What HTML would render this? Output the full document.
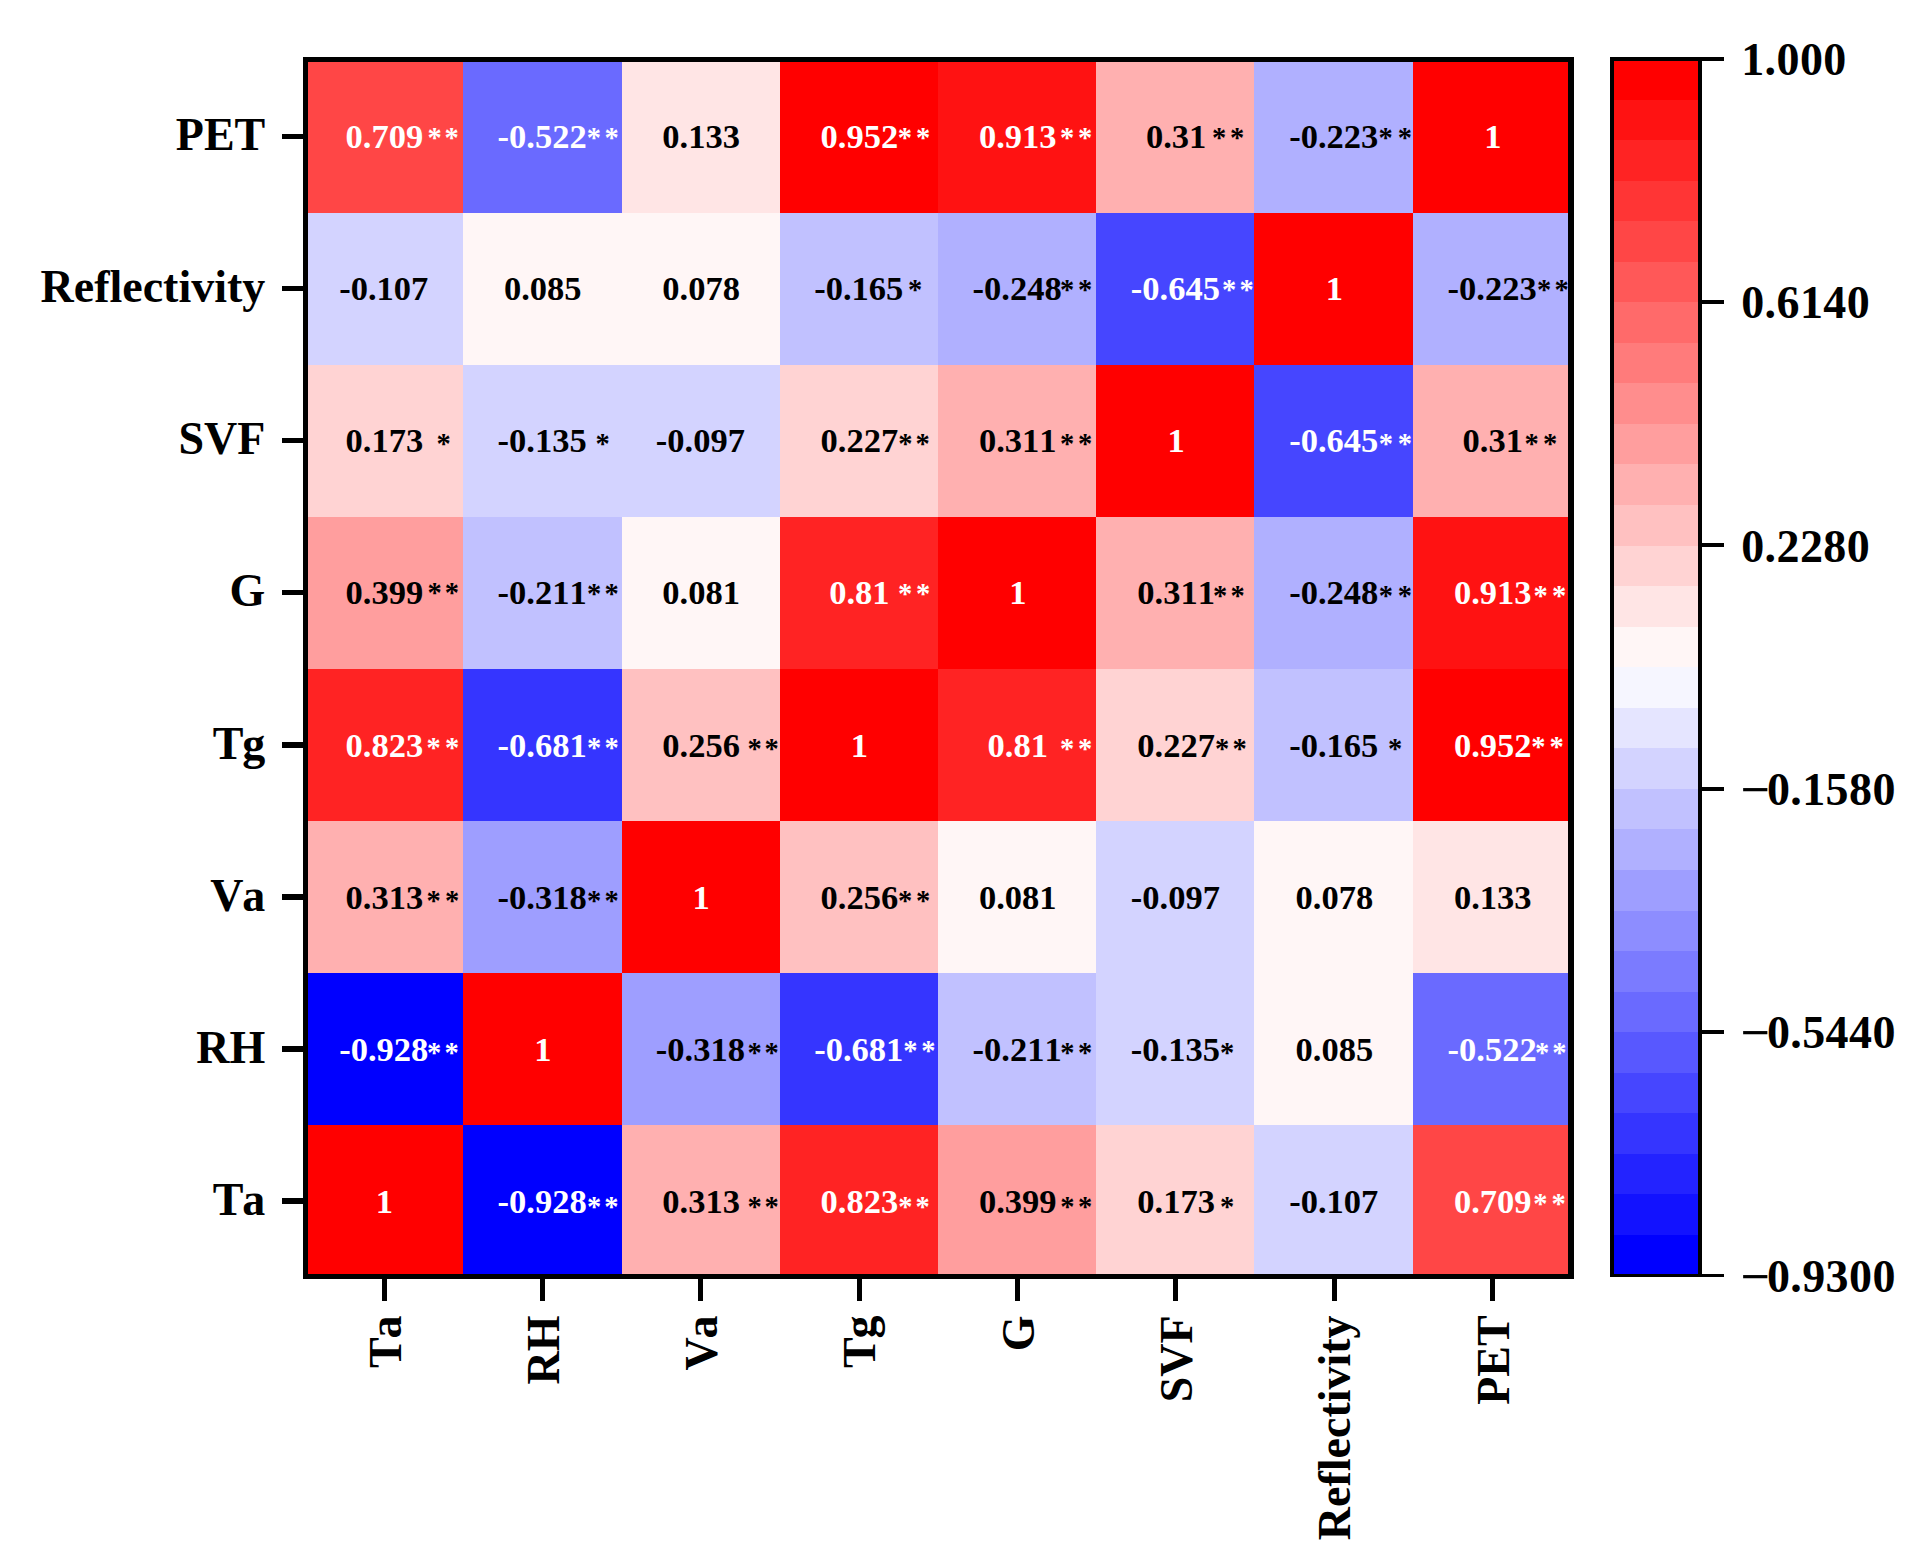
<!DOCTYPE html>
<html lang="en"><head><meta charset="utf-8"><title>Correlation heatmap</title>
<style>html,body{margin:0;padding:0;background:#fff}body{width:1922px;height:1565px;overflow:hidden}svg{display:block}text{font-family:"Liberation Serif",serif;font-weight:bold;font-kerning:none;font-variant-ligatures:none}.n{font-size:34.5px;text-anchor:middle}.s{font-size:28.5px;text-anchor:middle}.l{font-size:46px}.w{fill:#fff}.k{fill:#000}</style></head><body>
<svg width="1922" height="1565" viewBox="0 0 1922 1565">
<rect width="1922" height="1565" fill="#fff"/>
<g shape-rendering="crispEdges">
<rect x="305" y="61" width="158" height="152" fill="#ff4646"/>
<rect x="463" y="61" width="159" height="152" fill="#6a6aff"/>
<rect x="622" y="61" width="158" height="152" fill="#ffe5e5"/>
<rect x="780" y="61" width="158" height="152" fill="#ff0000"/>
<rect x="938" y="61" width="158" height="152" fill="#ff1212"/>
<rect x="1096" y="61" width="158" height="152" fill="#ffb0b0"/>
<rect x="1254" y="61" width="159" height="152" fill="#b0b0ff"/>
<rect x="1413" y="61" width="158" height="152" fill="#ff0000"/>
<rect x="305" y="213" width="158" height="152" fill="#d3d3ff"/>
<rect x="463" y="213" width="159" height="152" fill="#fff6f6"/>
<rect x="622" y="213" width="158" height="152" fill="#fff6f6"/>
<rect x="780" y="213" width="158" height="152" fill="#c1c1ff"/>
<rect x="938" y="213" width="158" height="152" fill="#b0b0ff"/>
<rect x="1096" y="213" width="158" height="152" fill="#4646ff"/>
<rect x="1254" y="213" width="159" height="152" fill="#ff0000"/>
<rect x="1413" y="213" width="158" height="152" fill="#b0b0ff"/>
<rect x="305" y="365" width="158" height="152" fill="#ffd3d3"/>
<rect x="463" y="365" width="159" height="152" fill="#d3d3ff"/>
<rect x="622" y="365" width="158" height="152" fill="#d3d3ff"/>
<rect x="780" y="365" width="158" height="152" fill="#ffd3d3"/>
<rect x="938" y="365" width="158" height="152" fill="#ffb0b0"/>
<rect x="1096" y="365" width="158" height="152" fill="#ff0000"/>
<rect x="1254" y="365" width="159" height="152" fill="#4646ff"/>
<rect x="1413" y="365" width="158" height="152" fill="#ffb0b0"/>
<rect x="305" y="517" width="158" height="152" fill="#ff9e9e"/>
<rect x="463" y="517" width="159" height="152" fill="#c1c1ff"/>
<rect x="622" y="517" width="158" height="152" fill="#fff6f6"/>
<rect x="780" y="517" width="158" height="152" fill="#ff2323"/>
<rect x="938" y="517" width="158" height="152" fill="#ff0000"/>
<rect x="1096" y="517" width="158" height="152" fill="#ffb0b0"/>
<rect x="1254" y="517" width="159" height="152" fill="#b0b0ff"/>
<rect x="1413" y="517" width="158" height="152" fill="#ff1212"/>
<rect x="305" y="669" width="158" height="152" fill="#ff2323"/>
<rect x="463" y="669" width="159" height="152" fill="#3535ff"/>
<rect x="622" y="669" width="158" height="152" fill="#ffc1c1"/>
<rect x="780" y="669" width="158" height="152" fill="#ff0000"/>
<rect x="938" y="669" width="158" height="152" fill="#ff2323"/>
<rect x="1096" y="669" width="158" height="152" fill="#ffd3d3"/>
<rect x="1254" y="669" width="159" height="152" fill="#c1c1ff"/>
<rect x="1413" y="669" width="158" height="152" fill="#ff0000"/>
<rect x="305" y="821" width="158" height="152" fill="#ffb0b0"/>
<rect x="463" y="821" width="159" height="152" fill="#9e9eff"/>
<rect x="622" y="821" width="158" height="152" fill="#ff0000"/>
<rect x="780" y="821" width="158" height="152" fill="#ffc1c1"/>
<rect x="938" y="821" width="158" height="152" fill="#fff6f6"/>
<rect x="1096" y="821" width="158" height="152" fill="#d3d3ff"/>
<rect x="1254" y="821" width="159" height="152" fill="#fff6f6"/>
<rect x="1413" y="821" width="158" height="152" fill="#ffe5e5"/>
<rect x="305" y="973" width="158" height="152" fill="#0000ff"/>
<rect x="463" y="973" width="159" height="152" fill="#ff0000"/>
<rect x="622" y="973" width="158" height="152" fill="#9e9eff"/>
<rect x="780" y="973" width="158" height="152" fill="#3535ff"/>
<rect x="938" y="973" width="158" height="152" fill="#c1c1ff"/>
<rect x="1096" y="973" width="158" height="152" fill="#d3d3ff"/>
<rect x="1254" y="973" width="159" height="152" fill="#fff6f6"/>
<rect x="1413" y="973" width="158" height="152" fill="#6a6aff"/>
<rect x="305" y="1125" width="158" height="152" fill="#ff0000"/>
<rect x="463" y="1125" width="159" height="152" fill="#0000ff"/>
<rect x="622" y="1125" width="158" height="152" fill="#ffb0b0"/>
<rect x="780" y="1125" width="158" height="152" fill="#ff2323"/>
<rect x="938" y="1125" width="158" height="152" fill="#ff9e9e"/>
<rect x="1096" y="1125" width="158" height="152" fill="#ffd3d3"/>
<rect x="1254" y="1125" width="159" height="152" fill="#d3d3ff"/>
<rect x="1413" y="1125" width="158" height="152" fill="#ff4646"/>
<rect x="1612" y="59" width="88" height="41" fill="#ff0000"/>
<rect x="1612" y="100" width="88" height="40" fill="#ff1212"/>
<rect x="1612" y="140" width="88" height="41" fill="#ff2323"/>
<rect x="1612" y="181" width="88" height="40" fill="#ff3535"/>
<rect x="1612" y="221" width="88" height="41" fill="#ff4646"/>
<rect x="1612" y="262" width="88" height="40" fill="#ff5858"/>
<rect x="1612" y="302" width="88" height="41" fill="#ff6a6a"/>
<rect x="1612" y="343" width="88" height="40" fill="#ff7b7b"/>
<rect x="1612" y="383" width="88" height="41" fill="#ff8d8d"/>
<rect x="1612" y="424" width="88" height="40" fill="#ff9e9e"/>
<rect x="1612" y="464" width="88" height="41" fill="#ffb0b0"/>
<rect x="1612" y="505" width="88" height="41" fill="#ffc1c1"/>
<rect x="1612" y="546" width="88" height="40" fill="#ffd3d3"/>
<rect x="1612" y="586" width="88" height="41" fill="#ffe5e5"/>
<rect x="1612" y="627" width="88" height="40" fill="#fff6f6"/>
<rect x="1612" y="667" width="88" height="41" fill="#f6f6ff"/>
<rect x="1612" y="708" width="88" height="40" fill="#e5e5ff"/>
<rect x="1612" y="748" width="88" height="41" fill="#d3d3ff"/>
<rect x="1612" y="789" width="88" height="40" fill="#c1c1ff"/>
<rect x="1612" y="829" width="88" height="41" fill="#b0b0ff"/>
<rect x="1612" y="870" width="88" height="41" fill="#9e9eff"/>
<rect x="1612" y="911" width="88" height="40" fill="#8d8dff"/>
<rect x="1612" y="951" width="88" height="41" fill="#7b7bff"/>
<rect x="1612" y="992" width="88" height="40" fill="#6a6aff"/>
<rect x="1612" y="1032" width="88" height="41" fill="#5858ff"/>
<rect x="1612" y="1073" width="88" height="40" fill="#4646ff"/>
<rect x="1612" y="1113" width="88" height="41" fill="#3535ff"/>
<rect x="1612" y="1154" width="88" height="40" fill="#2323ff"/>
<rect x="1612" y="1194" width="88" height="41" fill="#1212ff"/>
<rect x="1612" y="1235" width="88" height="41" fill="#0000ff"/>
<rect x="303" y="57" width="5" height="1222" fill="#000"/>
<rect x="1568" y="57" width="6" height="1222" fill="#000"/>
<rect x="303" y="57" width="1271" height="5" fill="#000"/>
<rect x="303" y="1274" width="1271" height="5" fill="#000"/>
<rect x="1610" y="57" width="4" height="1220" fill="#000"/>
<rect x="1698" y="57" width="4" height="1220" fill="#000"/>
<rect x="1610" y="57" width="92" height="4" fill="#000"/>
<rect x="1610" y="1274" width="92" height="3" fill="#000"/>
<rect x="282" y="134" width="22" height="5" fill="#000"/>
<rect x="282" y="286" width="22" height="5" fill="#000"/>
<rect x="282" y="438" width="22" height="5" fill="#000"/>
<rect x="282" y="590" width="22" height="5" fill="#000"/>
<rect x="282" y="742" width="22" height="6" fill="#000"/>
<rect x="282" y="894" width="22" height="6" fill="#000"/>
<rect x="282" y="1046" width="22" height="6" fill="#000"/>
<rect x="282" y="1198" width="22" height="6" fill="#000"/>
<rect x="382" y="1278" width="5" height="23" fill="#000"/>
<rect x="540" y="1278" width="5" height="23" fill="#000"/>
<rect x="698" y="1278" width="5" height="23" fill="#000"/>
<rect x="857" y="1278" width="5" height="23" fill="#000"/>
<rect x="1015" y="1278" width="5" height="23" fill="#000"/>
<rect x="1173" y="1278" width="5" height="23" fill="#000"/>
<rect x="1332" y="1278" width="5" height="23" fill="#000"/>
<rect x="1490" y="1278" width="5" height="23" fill="#000"/>
<rect x="1701" y="57" width="23" height="4" fill="#000"/>
<rect x="1701" y="300" width="23" height="4" fill="#000"/>
<rect x="1701" y="543" width="23" height="4" fill="#000"/>
<rect x="1701" y="787" width="23" height="4" fill="#000"/>
<rect x="1701" y="1030" width="23" height="4" fill="#000"/>
<rect x="1701" y="1274" width="23" height="3" fill="#000"/>
</g>
<text class="l k" style="letter-spacing:0.4px" x="1741.2" y="75.0">1.000</text>
<text class="l k" style="letter-spacing:0.4px" x="1741.2" y="318.3">0.6140</text>
<text class="l k" style="letter-spacing:0.4px" x="1741.2" y="561.6">0.2280</text>
<text class="l k" style="letter-spacing:0.4px" x="1740.3" y="804.9"><tspan textLength="30.2" lengthAdjust="spacingAndGlyphs">−</tspan><tspan dx="-3.6">0.1580</tspan></text>
<text class="l k" style="letter-spacing:0.4px" x="1740.3" y="1048.2"><tspan textLength="30.2" lengthAdjust="spacingAndGlyphs">−</tspan><tspan dx="-3.6">0.5440</tspan></text>
<text class="l k" style="letter-spacing:0.4px" x="1740.3" y="1291.5"><tspan textLength="30.2" lengthAdjust="spacingAndGlyphs">−</tspan><tspan dx="-3.6">0.9300</tspan></text>
<text class="l k" x="265.3" y="149.9" text-anchor="end">PET</text>
<text class="l k" x="265.3" y="302.0" text-anchor="end">Reflectivity</text>
<text class="l k" x="265.3" y="454.2" text-anchor="end">SVF</text>
<text class="l k" x="265.3" y="606.3" text-anchor="end">G</text>
<text class="l k" x="265.3" y="758.5" text-anchor="end">T<tspan dx="-1.2">g</tspan></text>
<text class="l k" x="265.3" y="910.6" text-anchor="end">V<tspan dx="-1.2">a</tspan></text>
<text class="l k" x="265.3" y="1062.7" text-anchor="end">RH</text>
<text class="l k" x="265.3" y="1214.9" text-anchor="end">T<tspan dx="-1.2">a</tspan></text>
<text class="l k" text-anchor="end" transform="translate(400.8 1315.4) rotate(-90)">T<tspan dx="-1.2">a</tspan></text>
<text class="l k" text-anchor="end" transform="translate(559.2 1315.4) rotate(-90)">RH</text>
<text class="l k" text-anchor="end" transform="translate(717.2 1315.4) rotate(-90)">V<tspan dx="-1.2">a</tspan></text>
<text class="l k" text-anchor="end" transform="translate(874.5 1315.4) rotate(-90)">T<tspan dx="-1.2">g</tspan></text>
<text class="l k" text-anchor="end" transform="translate(1034.4 1315.4) rotate(-90)">G</text>
<text class="l k" text-anchor="end" transform="translate(1191.6 1315.4) rotate(-90)">SVF</text>
<text class="l k" text-anchor="end" transform="translate(1350.3 1315.4) rotate(-90)">Reflectivity</text>
<text class="l k" text-anchor="end" transform="translate(1508.5 1315.4) rotate(-90)">PET</text>
<text class="n w" transform="translate(384.4 147.8) scale(1 1)">0.709</text>
<text class="s w" x="434.5" y="146.5">*</text>
<text class="s w" x="451.6" y="146.5">*</text>
<text class="n w" transform="translate(542.1 147.8) scale(1 1)">-0.522</text>
<text class="s w" x="593.9" y="146.7">*</text>
<text class="s w" x="611.7" y="146.7">*</text>
<text class="n k" transform="translate(701.1 147.8) scale(1 1)">0.133</text>
<text class="n w" transform="translate(859.4 147.8) scale(1 1)">0.952</text>
<text class="s w" x="904.9" y="146.7">*</text>
<text class="s w" x="923.2" y="146.7">*</text>
<text class="n w" transform="translate(1017.8 147.8) scale(1 1)">0.913</text>
<text class="s w" x="1067.0" y="146.7">*</text>
<text class="s w" x="1085.2" y="146.7">*</text>
<text class="n k" transform="translate(1176.1 147.8) scale(1 1)">0.31</text>
<text class="s k" x="1219.0" y="146.7">*</text>
<text class="s k" x="1237.0" y="146.7">*</text>
<text class="n k" transform="translate(1333.7 147.8) scale(1 1)">-0.223</text>
<text class="s k" x="1385.7" y="146.7">*</text>
<text class="s k" x="1404.9" y="146.7">*</text>
<text class="n w" transform="translate(1492.8 147.8) scale(1 1)">1</text>
<text class="n k" transform="translate(383.7 299.8) scale(1 1)">-0.107</text>
<text class="n k" transform="translate(542.8 299.8) scale(1 1)">0.085</text>
<text class="n k" transform="translate(701.1 299.8) scale(1 1)">0.078</text>
<text class="n k" transform="translate(858.7 299.8) scale(1 1)">-0.165</text>
<text class="s k" x="915.0" y="298.5">*</text>
<text class="n k" transform="translate(1017.1 299.8) scale(1 1)">-0.248</text>
<text class="s k" x="1067.0" y="298.5">*</text>
<text class="s k" x="1085.2" y="298.5">*</text>
<text class="n w" transform="translate(1175.4 299.8) scale(1 1)">-0.645</text>
<text class="s w" x="1229.2" y="298.5">*</text>
<text class="s w" x="1246.7" y="298.5">*</text>
<text class="n w" transform="translate(1334.4 299.8) scale(1 1)">1</text>
<text class="n k" transform="translate(1492.1 299.8) scale(1 1)">-0.223</text>
<text class="s k" x="1544.0" y="298.5">*</text>
<text class="s k" x="1561.7" y="298.5">*</text>
<text class="n k" transform="translate(384.4 451.8) scale(1 1)">0.173</text>
<text class="s k" x="443.5" y="453.3">*</text>
<text class="n k" transform="translate(542.1 451.8) scale(1 1)">-0.135</text>
<text class="s k" x="602.7" y="453.3">*</text>
<text class="n k" transform="translate(700.4 451.8) scale(1 1)">-0.097</text>
<text class="n k" transform="translate(859.4 451.8) scale(1 1)">0.227</text>
<text class="s k" x="905.4" y="453.3">*</text>
<text class="s k" x="922.7" y="453.3">*</text>
<text class="n k" transform="translate(1017.8 451.8) scale(1 1)">0.311</text>
<text class="s k" x="1067.0" y="453.3">*</text>
<text class="s k" x="1085.2" y="453.3">*</text>
<text class="n w" transform="translate(1176.1 451.8) scale(1 1)">1</text>
<text class="n w" transform="translate(1333.7 451.8) scale(1 1)">-0.645</text>
<text class="s w" x="1385.9" y="453.3">*</text>
<text class="s w" x="1404.9" y="453.3">*</text>
<text class="n k" transform="translate(1492.8 451.8) scale(1 1)">0.31</text>
<text class="s k" x="1531.7" y="453.3">*</text>
<text class="s k" x="1550.0" y="453.3">*</text>
<text class="n k" transform="translate(384.4 603.8) scale(1 1)">0.399</text>
<text class="s k" x="434.5" y="601.7">*</text>
<text class="s k" x="451.8" y="601.7">*</text>
<text class="n k" transform="translate(542.1 603.8) scale(1 1)">-0.211</text>
<text class="s k" x="594.2" y="602.5">*</text>
<text class="s k" x="611.7" y="602.5">*</text>
<text class="n k" transform="translate(701.1 603.8) scale(1 1)">0.081</text>
<text class="n w" transform="translate(859.4 603.8) scale(1 1)">0.81</text>
<text class="s w" x="905.2" y="602.5">*</text>
<text class="s w" x="923.0" y="602.5">*</text>
<text class="n w" transform="translate(1017.8 603.8) scale(1 1)">1</text>
<text class="n k" transform="translate(1176.1 603.8) scale(1 1)">0.311</text>
<text class="s k" x="1220.0" y="604.6">*</text>
<text class="s k" x="1237.7" y="604.6">*</text>
<text class="n k" transform="translate(1333.7 603.8) scale(1 1)">-0.248</text>
<text class="s k" x="1385.9" y="604.6">*</text>
<text class="s k" x="1404.9" y="604.6">*</text>
<text class="n w" transform="translate(1492.8 603.8) scale(1 1)">0.913</text>
<text class="s w" x="1540.7" y="604.6">*</text>
<text class="s w" x="1559.0" y="604.6">*</text>
<text class="n w" transform="translate(384.4 756.8) scale(1 1)">0.823</text>
<text class="s w" x="433.7" y="757.0">*</text>
<text class="s w" x="452.0" y="757.0">*</text>
<text class="n w" transform="translate(542.1 756.8) scale(1 1)">-0.681</text>
<text class="s w" x="594.2" y="757.0">*</text>
<text class="s w" x="611.7" y="757.0">*</text>
<text class="n k" transform="translate(701.1 756.8) scale(1 1)">0.256</text>
<text class="s k" x="754.5" y="757.5">*</text>
<text class="s k" x="771.5" y="757.5">*</text>
<text class="n w" transform="translate(859.4 756.8) scale(1 1)">1</text>
<text class="n w" transform="translate(1017.8 756.8) scale(1 1)">0.81</text>
<text class="s w" x="1067.0" y="757.8">*</text>
<text class="s w" x="1085.2" y="757.8">*</text>
<text class="n k" transform="translate(1176.1 756.8) scale(1 1)">0.227</text>
<text class="s k" x="1222.0" y="757.8">*</text>
<text class="s k" x="1239.7" y="757.8">*</text>
<text class="n k" transform="translate(1333.7 756.8) scale(1 1)">-0.165</text>
<text class="s k" x="1395.2" y="757.8">*</text>
<text class="n w" transform="translate(1492.8 756.8) scale(1 1)">0.952</text>
<text class="s w" x="1538.4" y="755.8">*</text>
<text class="s w" x="1556.7" y="755.8">*</text>
<text class="n k" transform="translate(384.4 908.8) scale(1 1)">0.313</text>
<text class="s k" x="433.7" y="909.8">*</text>
<text class="s k" x="452.0" y="909.8">*</text>
<text class="n k" transform="translate(542.1 908.8) scale(1 1)">-0.318</text>
<text class="s k" x="594.2" y="909.8">*</text>
<text class="s k" x="611.7" y="909.8">*</text>
<text class="n w" transform="translate(701.1 908.8) scale(1 1)">1</text>
<text class="n k" transform="translate(859.4 908.8) scale(1 1)">0.256</text>
<text class="s k" x="905.2" y="909.8">*</text>
<text class="s k" x="923.0" y="909.8">*</text>
<text class="n k" transform="translate(1017.8 908.8) scale(1 1)">0.081</text>
<text class="n k" transform="translate(1175.4 908.8) scale(1 1)">-0.097</text>
<text class="n k" transform="translate(1334.4 908.8) scale(1 1)">0.078</text>
<text class="n k" transform="translate(1492.8 908.8) scale(1 1)">0.133</text>
<text class="n w" transform="translate(383.7 1060.8) scale(1 1)">-0.928</text>
<text class="s w" x="434.2" y="1061.8">*</text>
<text class="s w" x="451.5" y="1061.8">*</text>
<text class="n w" transform="translate(542.8 1060.8) scale(1 1)">1</text>
<text class="n k" transform="translate(700.4 1060.8) scale(1 1)">-0.318</text>
<text class="s k" x="754.5" y="1061.8">*</text>
<text class="s k" x="771.5" y="1061.8">*</text>
<text class="n w" transform="translate(858.7 1060.8) scale(1 1)">-0.681</text>
<text class="s w" x="910.4" y="1059.5">*</text>
<text class="s w" x="928.4" y="1059.5">*</text>
<text class="n k" transform="translate(1017.1 1060.8) scale(1 1)">-0.211</text>
<text class="s k" x="1067.4" y="1061.8">*</text>
<text class="s k" x="1085.2" y="1061.8">*</text>
<text class="n k" transform="translate(1175.4 1060.8) scale(1 1)">-0.135</text>
<text class="s k" x="1227.2" y="1061.8">*</text>
<text class="n k" transform="translate(1334.4 1060.8) scale(1 1)">0.085</text>
<text class="n w" transform="translate(1492.1 1060.8) scale(1 1)">-0.522</text>
<text class="s w" x="1542.0" y="1061.8">*</text>
<text class="s w" x="1559.4" y="1061.8">*</text>
<text class="n w" transform="translate(384.4 1212.8) scale(1 1)">1</text>
<text class="n w" transform="translate(542.1 1212.8) scale(1 1)">-0.928</text>
<text class="s w" x="594.0" y="1215.6">*</text>
<text class="s w" x="611.4" y="1215.6">*</text>
<text class="n k" transform="translate(701.1 1212.8) scale(1 1)">0.313</text>
<text class="s k" x="754.5" y="1215.6">*</text>
<text class="s k" x="771.5" y="1215.6">*</text>
<text class="n w" transform="translate(859.4 1212.8) scale(1 1)">0.823</text>
<text class="s w" x="905.4" y="1215.6">*</text>
<text class="s w" x="922.7" y="1215.6">*</text>
<text class="n k" transform="translate(1017.8 1212.8) scale(1 1)">0.399</text>
<text class="s k" x="1067.4" y="1215.6">*</text>
<text class="s k" x="1085.2" y="1215.6">*</text>
<text class="n k" transform="translate(1176.1 1212.8) scale(1 1)">0.173</text>
<text class="s k" x="1227.2" y="1215.6">*</text>
<text class="n k" transform="translate(1333.7 1212.8) scale(1 1)">-0.107</text>
<text class="n w" transform="translate(1492.8 1212.8) scale(1 1)">0.709</text>
<text class="s w" x="1540.4" y="1212.6">*</text>
<text class="s w" x="1558.5" y="1212.6">*</text>
</svg></body></html>
